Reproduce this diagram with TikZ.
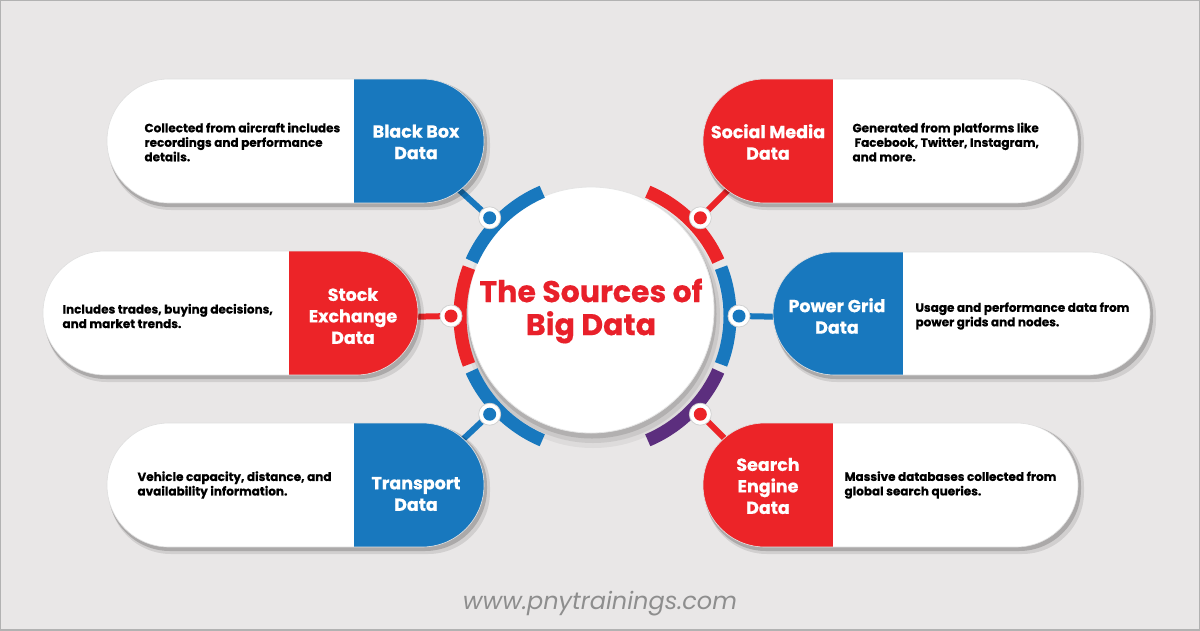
\documentclass[tikz,border=0pt]{standalone}
\usepackage{fontspec}
\setmainfont{Poppins}
\newfontfamily\heavy{Poppins}[FakeBold=0.5]
\usetikzlibrary{calc}
\definecolor{bg}{HTML}{E9E7E7}
\definecolor{cblue}{HTML}{1878BE}
\definecolor{cred}{HTML}{EC2428}
\definecolor{cpurple}{HTML}{5C2E7E}
\definecolor{ctitle}{HTML}{E8202A}
\definecolor{cfoot}{HTML}{8E8E8E}
\newcommand\mypill[7]{%
  \fill[black, opacity=.10, rounded corners=62pt] (#1+2,#2+2) rectangle (#3+6,#4+7);
  \fill[black, opacity=.18, rounded corners=62pt] (#1+1,#2+1) rectangle (#3+3,#4+4);
  \begin{scope}
    \clip[rounded corners=62pt] (#1,#2) rectangle (#3,#4);
    \fill[white] (#1,#2) rectangle (#3,#4);
    \fill[#7] (#5,#2) rectangle (#6,#4);
  \end{scope}
  \draw[gray!25, line width=0.6, rounded corners=62pt] (#1,#2) rectangle (#3,#4);
}
\tikzset{
  head/.style={text=white, align=center, font=\heavy\bfseries\fontsize{17.5}{21.5}\selectfont},
  desc/.style={text=black, align=left, anchor=west, font=\heavy\bfseries\fontsize{12}{14.5}\selectfont},
  conn/.style={line width=6pt},
  seg/.style={line width=13pt},
  dotc/.style={circle, fill=white, draw=gray!35, line width=0.8pt, minimum size=22pt, inner sep=0pt}
}
\begin{document}
\begin{tikzpicture}[x=1pt,y=-1pt]
\useasboundingbox (0,0) rectangle (1200,630);
\fill[bg] (0,0) rectangle (1200,630);

% ring centre and dot positions
\coordinate (rc) at (595,316);
\coordinate (pTL) at ($(rc)+(-137:144)$);
\coordinate (pTR) at ($(rc)+(-43:144)$);
\coordinate (pL) at ($(rc)+(180:144)$);
\coordinate (pR) at ($(rc)+(0:144)$);
\coordinate (pBL) at ($(rc)+(137:144)$);
\coordinate (pBR) at ($(rc)+(43:144)$);

% connector ends inside pills
\coordinate (eTL) at (455,186);
\coordinate (eTR) at (732,186);
\coordinate (eL) at (400,317);
\coordinate (eR) at (790,317);
\coordinate (eBL) at (458,444);
\coordinate (eBR) at (728,442);

\draw[conn, cblue] (pTL) -- (eTL);
\draw[conn, cred] (pTR) -- (eTR);
\draw[conn, cred] (pL) -- (eL);
\draw[conn, cblue] (pR) -- (eR);
\draw[conn, cblue] (pBL) -- (eBL);
\draw[conn, cred] (pBR) -- (eBR);

% pills
\mypill{107}{79}{484}{203}{354}{484}{cblue}
\mypill{703}{79}{1078}{203}{703}{833}{cred}
\mypill{43}{251}{418}{375}{289}{418}{cred}
\mypill{773}{252}{1150}{375}{773}{903}{cblue}
\mypill{703}{423}{1078}{547}{703}{833}{cred}
\mypill{107}{423}{484}{547}{354}{484}{cblue}

% pill texts
\node[head] (hBB) at (416,142) {Black Box\\Data};
\node[desc] (dBB) at (141,142) {Collected from aircraft includes\\recordings and performance\\details.};
\node[head] (hSM) at (768,142) {Social Media\\Data};
\node[desc] (dSM) at (849,142) {Generated from platforms like\\\hspace{2pt}Facebook, Twitter, Instagram,\\and more.};
\node[head] (hSE) at (353,316) {Stock\\Exchange\\Data};
\node[desc] (dSE) at (59,316) {Includes trades, buying decisions,\\and market trends.};
\node[head] (hPG) at (837,316) {Power Grid\\Data};
\node[desc] (dPG) at (912,316) {Usage and performance data from\\power grids and nodes.};
\node[head] (hSR) at (768,486) {Search\\Engine\\Data};
\node[desc] (dSR) at (841,485) {Massive databases collected from\\global search queries.};
\node[head] (hTR) at (416,494) {Transport\\Data};
\node[desc] (dTR) at (134,485) {Vehicle capacity, distance, and\\availability information.};

% central circle with soft shadow
\fill[black, opacity=.05] (593,318) circle (130);
\fill[black, opacity=.08] (593,316) circle (127);
\fill[black, opacity=.12] (592,314) circle (124.5);
\fill[white] (591,310) circle (123);
\draw[gray!20, line width=0.8] (591,310) circle (123);

% ring segments
\draw[seg, cblue] ($(rc)+(-113:135)$) arc[start angle=-113, end angle=-156, radius=135];
\draw[seg, cred] ($(rc)+(-159:135)$) arc[start angle=-159, end angle=-201, radius=135];
\draw[seg, cblue] ($(rc)+(-204:135)$) arc[start angle=-204, end angle=-247, radius=135];
\draw[seg, cred] ($(rc)+(-67:135)$) arc[start angle=-67, end angle=-24, radius=135];
\draw[seg, cblue] ($(rc)+(-21:135)$) arc[start angle=-21, end angle=21, radius=135];
\draw[seg, cpurple] ($(rc)+(24:135)$) arc[start angle=24, end angle=67, radius=135];

% dots
\node[dotc] (dotTL) at (pTL) {};
\node[dotc] (dotTR) at (pTR) {};
\node[dotc] (dotL) at (pL) {};
\node[dotc] (dotR) at (pR) {};
\node[dotc] (dotBL) at (pBL) {};
\node[dotc] (dotBR) at (pBR) {};
\fill[cblue] (dotTL) circle (6.5);
\fill[cred] (dotTR) circle (6.5);
\fill[cred] (dotL) circle (6.5);
\fill[cblue] (dotR) circle (6.5);
\fill[cblue] (dotBL) circle (6.5);
\fill[cred] (dotBR) circle (6.5);

% title
\node[text=ctitle, align=center, font=\heavy\bfseries\fontsize{30}{33}\selectfont] (title) at (591,311) {The Sources of\\Big Data};

% footer
\node[text=cfoot, font=\itshape\fontsize{24}{28}\selectfont] (foot) at (600,604) {www.pnytrainings.com};

% frame
\draw[gray!60, line width=1.5] (0,0) rectangle (1200,630);
\end{tikzpicture}
\end{document}
